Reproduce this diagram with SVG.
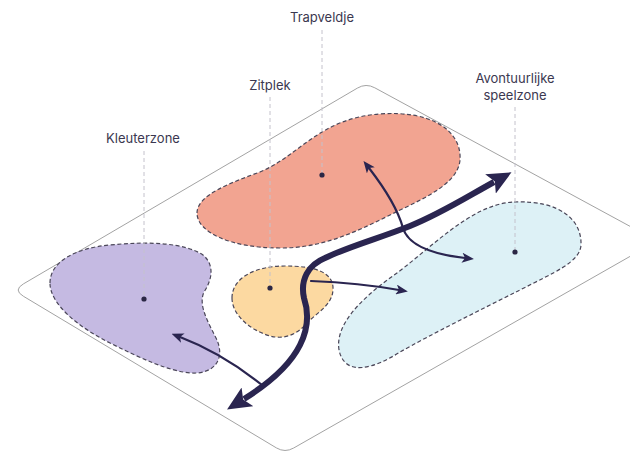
<svg xmlns="http://www.w3.org/2000/svg" width="630" height="452" viewBox="0 0 630 452">
<defs>
<style>
.zone{stroke:#4a4658;stroke-width:1.2;stroke-dasharray:4 2.5}
.lead{fill:none;stroke:#c4c2cc;stroke-width:1;stroke-dasharray:4 3}
.dot{fill:#2b2745}
.lbl{font-family:Inter,"Liberation Sans",sans-serif;font-size:13px;fill:#3b3850;text-anchor:middle}
.thin{fill:none;stroke:#2a2550;stroke-width:2.2;stroke-linecap:round}
.thick{fill:none;stroke:#2a2550;stroke-width:6;stroke-linecap:butt}
</style>
<marker id="big" viewBox="0 0 24 22" refX="4" refY="11" markerWidth="24" markerHeight="22" markerUnits="userSpaceOnUse" orient="auto-start-reverse">
<path d="M0,0 L24,11 L0,22 L5,11 Z" fill="#2a2550"/>
</marker>
<marker id="sm" viewBox="0 0 12 10" refX="3" refY="5" markerWidth="12" markerHeight="10" markerUnits="userSpaceOnUse" orient="auto-start-reverse">
<path d="M0,0 L12,5 L0,10 L3,5 Z" fill="#2a2550"/>
</marker>
</defs>
<rect width="630" height="452" fill="#ffffff"/>
<path id="plane" d="M357.4,88.1 Q366,83 374.8,87.8 L648.2,236.2 Q657,241 648.3,246 L293.7,448 Q285,453 276.4,447.9 L23.3,296.2 Q13,290 23.4,283.9 Z" fill="#ffffff" stroke="#a3a3a3" stroke-width="1"/>
<g id="trapveldje">
<path class="zone" fill="#f2a491" d="M197,213 C197,195 230,183 260,172 C300,155 320,118 380,114 C430,110 462,130 460,160 C458,185 420,200 390,215 C350,235 320,248 280,248 C230,248 197,232 197,213 Z"/>
<line class="lead" x1="322" y1="30" x2="322" y2="175"/>
<circle class="dot" cx="322" cy="175" r="2.6"/>
<text class="lbl" x="322" y="22">Trapveldje</text>
</g>
<g id="kleuterzone">
<path class="zone" fill="#c5bae2" d="M50,283 C50,262 75,248 110,245 C150,241 185,243 203,255 C215,265 212,280 204,292 C198,305 208,322 216,338 C226,358 215,374 192,373 C170,372 140,358 110,343 C80,328 50,305 50,283 Z"/>
<line class="lead" x1="144" y1="151" x2="144" y2="299"/>
<circle class="dot" cx="144" cy="299" r="2.6"/>
<text class="lbl" x="143" y="143">Kleuterzone</text>
</g>
<g id="zitplek">
<path class="zone" fill="#fcd9a1" d="M232,298 C232,278 255,266 285,266 C315,266 334,272 333,290 C332,305 318,312 308,322 C298,334 285,340 270,336 C250,330 232,315 232,298 Z"/>
<line class="lead" x1="270" y1="97" x2="270" y2="288"/>
<circle class="dot" cx="270" cy="288" r="2.6"/>
<text class="lbl" x="270" y="90">Zitplek</text>
</g>
<g id="speelzone">
<path class="zone" fill="#ddf1f6" d="M514,202 C560,200 582,220 581,245 C580,262 555,272 520,290 C480,310 430,335 400,352 C375,368 345,378 339,350 C335,325 360,300 390,278 C430,250 470,204 514,202 Z"/>
<line class="lead" x1="515" y1="107" x2="515" y2="252"/>
<circle class="dot" cx="515" cy="252" r="2.6"/>
<text class="lbl" x="515" y="83">Avontuurlijke</text>
<text class="lbl" x="515" y="100">speelzone</text>
</g>
<g id="connectors">
<path class="thick" d="M244,399 C268,384 290,365 300,345 C310,325 308,310 304,298 C300,280 308,265 325,258 C350,246 380,238 410,226 C440,214 465,198 494,182" marker-start="url(#big)" marker-end="url(#big)"/>
<path class="thin" d="M262,385 Q222,353 180,337" marker-end="url(#sm)"/>
<path class="thin" d="M311,281 Q360,283 399,290" marker-end="url(#sm)"/>
<path class="thin" d="M369,168 C386,190 398,210 403,228 C408,245 430,254 465,258" marker-start="url(#sm)" marker-end="url(#sm)"/>
</g>
</svg>
